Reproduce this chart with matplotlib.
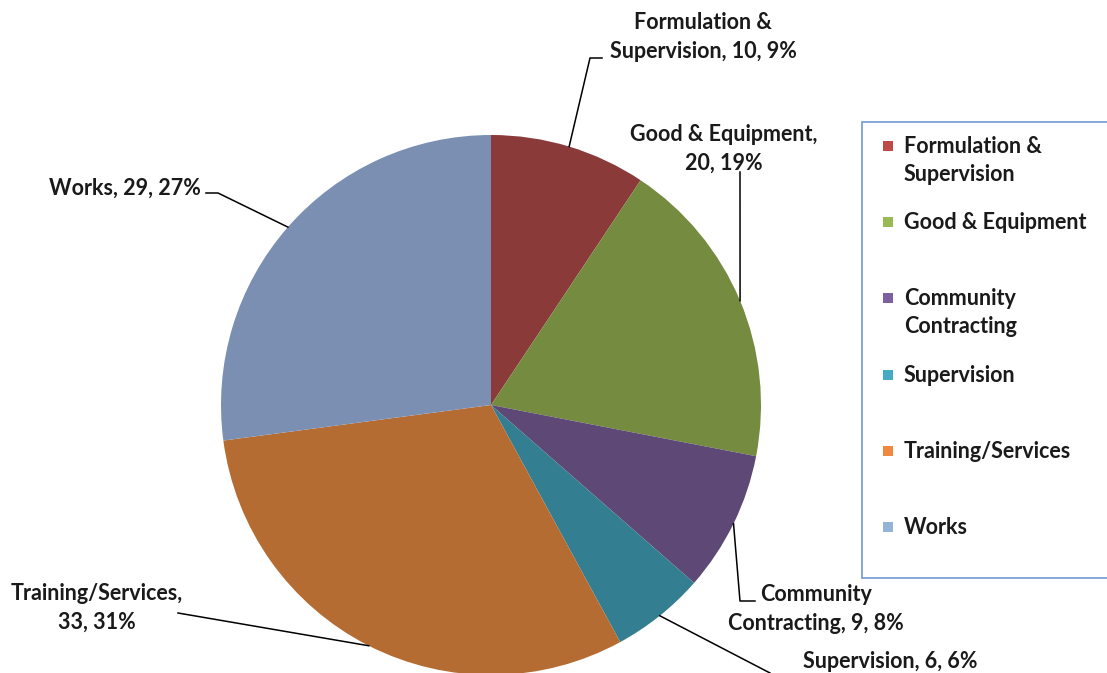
import numpy as np
import matplotlib.pyplot as plt
from matplotlib.patches import Rectangle

# data
categories = ["Formulation & Supervision", "Good & Equipment", "Community Contracting",
              "Supervision", "Training/Services", "Works"]
values = [10, 20, 9, 6, 33, 29]

# label text as wrapped in the chart
label_names = ["Formulation &\nSupervision", "Good & Equipment", "Community\nContracting",
               "Supervision", "Training/Services", "Works"]
label_seps = [", ", ",\n", ", ", ", ", ",\n", ", "]
legend_names = ["Formulation &\nSupervision", "Good & Equipment", "Community\nContracting",
                "Supervision", "Training/Services", "Works"]

pie_colors = ["#8B3A3A", "#748B40", "#5E4876", "#337E91", "#B46C33", "#7B8FB2"]
legend_colors = ["#BE4B48", "#98B954", "#7D60A0", "#46AAC5", "#F0893F", "#95B3D7"]

W, H = 1107, 673
cx, cy, R = 491, 405, 270

plt.rcParams['font.family'] = ['Lato', 'DejaVu Sans']
fig = plt.figure(figsize=(W / 100, H / 100), dpi=100)
ax = fig.add_axes([0, 0, 1, 1])

def Y(y):
    return H - y

ax.pie(values, colors=pie_colors, startangle=90, counterclock=False,
       center=(cx, Y(cy)), radius=R, frame=True,
       wedgeprops=dict(linewidth=0))
ax.set_xlim(0, W)
ax.set_ylim(0, H)
ax.set_aspect('equal')
ax.axis('off')

# label layout: text anchor (x, y from top, h-align), leader line bend points
label_pos = [(703, 37, "center"), (724, 149, "center"), (816, 609, "center"),
             (890, 662, "center"), (97, 608, "center"), (201, 188, "right")]
leader_bends = [
    [(590, 58), (602, 58)],
    [(740, 172)],
    [(740, 601), (755, 601)],
    [(770, 673)],
    [(178, 613)],
    [(218, 193), (206, 193)],
]

FS = 15.5
total = sum(values)
cum = np.cumsum([0] + values)
for i, v in enumerate(values):
    pct = round(v / total * 100)
    txt = f"{label_names[i]}{label_seps[i]}{v}, {pct}%"
    mid = np.deg2rad(90 - (cum[i] + v / 2) / total * 360)
    sx, sy = cx + R * np.cos(mid), cy - R * np.sin(mid)
    pts = [(sx, sy)] + leader_bends[i]
    ax.plot([p[0] for p in pts], [Y(p[1]) for p in pts], color="black", lw=1.1)
    tx, ty, ha = label_pos[i]
    ax.text(tx, Y(ty), txt, ha=ha, va="center", fontsize=FS,
            fontweight="bold", color="#1a1a1a", linespacing=1.42)

# legend box
ax.add_patch(Rectangle((862, Y(578)), 260, 456, facecolor="white",
                       edgecolor="#6F9AD2", lw=1.2, clip_on=False))
legend_y = [146, 222, 298, 375, 451, 527]
for i, name in enumerate(legend_names):
    ly = legend_y[i]
    ax.add_patch(Rectangle((883, Y(ly) - 5), 10, 10, facecolor=legend_colors[i], lw=0))
    ax.text(904, Y(ly) + 10, name, ha="left", va="top", fontsize=FS,
            fontweight="bold", color="#1a1a1a", linespacing=1.42)

fig.savefig("out.png", dpi=100)
